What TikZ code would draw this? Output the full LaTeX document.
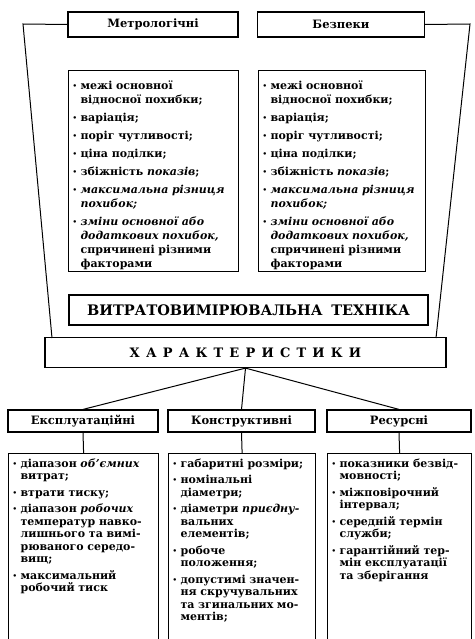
\documentclass[tikz,border=0pt]{standalone}
\usepackage{fontspec}
\setmainfont{DejaVu Serif}
\usetikzlibrary{positioning}

\newcommand{\dotmark}{\llap{\makebox[8pt][l]{\raisebox{0.15ex}{\fontsize{7}{7}\selectfont\textbullet}}}}
\newcommand{\firstitm}{\leftskip=8pt\ifvmode\noindent\fi\dotmark}
\newcommand{\itm}{\par\leftskip=8pt\noindent\dotmark}
\newcommand{\listend}{\par}

\begin{document}
\begin{tikzpicture}[x=1pt,y=-1pt,
	every node/.style={font=\fontsize{11}{14}\selectfont\bfseries},
	headbox/.style={draw, line width=1.2pt, inner sep=0pt, font=\fontsize{11.5}{13}\selectfont\bfseries},
	listbox/.style={draw, line width=1.2pt, anchor=north west, align=left, inner xsep=4pt, inner ysep=10pt,
		execute at begin node=\setlength{\parskip}{4pt}},
	lowlist/.style={listbox, inner ysep=5pt, font=\fontsize{11}{12.5}\selectfont\bfseries},
	link/.style={line width=1pt}]
	\clip (0,0) rectangle (474,639);
	% upper groups
	\node[headbox, minimum width=170, minimum height=25] (metro) at (153,24.5) {Метрологічні};
	\node[headbox, minimum width=167, minimum height=25] (safety) at (341,24.5) {Безпеки};
	\node[listbox, text width=162, text depth=172] (metrolist) at (68,70) {%
		\firstitm межі основної\newline відносної похибки;
		\itm варіація;
		\itm поріг чутливості;
		\itm ціна поділки;
		\itm збіжність \textit{показів};
		\itm \textit{максимальна різниця\newline похибок;}
		\itm \textit{зміни основної або\newline додаткових похибок,}\newline спричинені різними\newline факторами\listend};
	\node[listbox, text width=159, text depth=172] (safetylist) at (258,70) {%
		\firstitm межі основної\newline відносної похибки;
		\itm варіація;
		\itm поріг чутливості;
		\itm ціна поділки;
		\itm збіжність \textit{показів};
		\itm \textit{максимальна різниця\newline похибок;}
		\itm \textit{зміни основної або\newline додаткових похибок,}\newline спричинені різними\newline факторами\listend};
	% centre
	\node[headbox, minimum width=359, minimum height=30, font=\fontsize{14.5}{16}\selectfont\bfseries] (tech) at (248.5,310) {ВИТРАТОВИМІРЮВАЛЬНА\hspace{0.6em}ТЕХНІКА};
	\node[headbox, minimum width=401, minimum height=30, font=\fontsize{13}{15}\selectfont\bfseries] (chars) at (245.5,352.5) {{\spaceskip=6.2pt Х А Р А К Т Е Р И С Т И К И}};
	\coordinate (lcorner) at (23,24);
	\coordinate (rcorner) at (470,24);
	\coordinate (lfoot) at (52,338);
	\coordinate (rfoot) at (436,338);
	\draw[link] (metro.west) -- (lcorner) -- (lfoot);
	\draw[link] (safety.east) -- (rcorner) -- (rfoot);
	% lower groups
	\node[headbox, minimum width=150, minimum height=22] (expl) at (83,421) {Експлуатаційні};
	\node[headbox, minimum width=147, minimum height=22] (constr) at (241.5,421) {Конструктивні};
	\node[headbox, minimum width=144, minimum height=22] (res) at (399,421) {Ресурсні};
	\node[lowlist, text width=142, text depth=200] (expllist) at (8,453) {%
		\firstitm діапазон \textit{об’ємних}\newline витрат;
		\itm втрати тиску;
		\itm діапазон \textit{робочих}\newline температур навко-\newline лишнього та вимі-\newline рюваного середо-\newline вищ;
		\itm максимальний\newline робочий тиск\listend};
	\node[lowlist, text width=139, text depth=200] (constrlist) at (168,453) {%
		\firstitm габаритні розміри;
		\itm номінальні\newline діаметри;
		\itm діаметри \textit{приєдну-}\newline вальних\newline елементів;
		\itm робоче\newline положення;
		\itm допустимі значен-\newline ня скручувальних\newline та згинальних мо-\newline ментів;\listend};
	\node[lowlist, text width=136, text depth=200] (reslist) at (327,453) {%
		\firstitm показники безвід-\newline мовності;
		\itm міжповірочний\newline інтервал;
		\itm середній термін\newline служби;
		\itm гарантійний тер-\newline мін експлуатації\newline та зберігання\listend};
	\draw[link] (chars.south) -- (expl.north);
	\draw[link] (chars.south) -- (constr.north);
	\draw[link] (chars.south) -- (res.north);
	\draw[link] (expl.south) -- (expllist.north);
	\draw[link] (constr.south) -- (constrlist.north);
	\draw[link] (res.south) -- (reslist.north);
\end{tikzpicture}
\end{document}
